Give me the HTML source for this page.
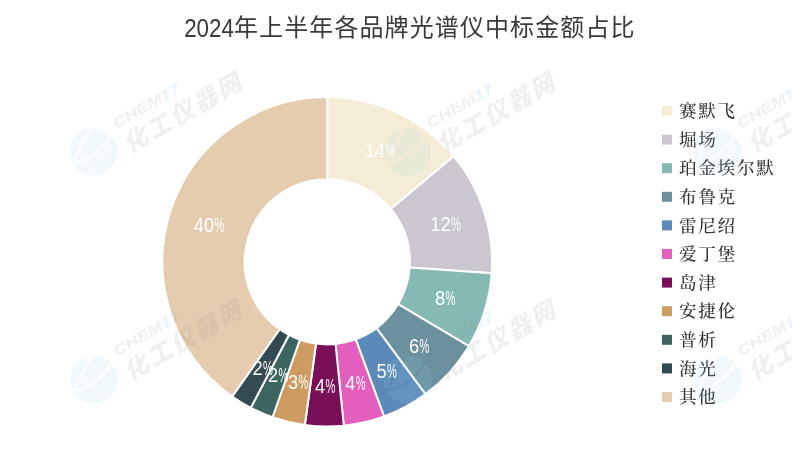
<!DOCTYPE html>
<html lang="zh-CN"><head><meta charset="utf-8"><title>2024年上半年各品牌光谱仪中标金额占比</title>
<style>
html,body{margin:0;padding:0;background:#fff;}
body{width:792px;height:473px;overflow:hidden;position:relative;}
svg{display:block;position:absolute;left:0;top:0;}
.title{font-family:"Liberation Sans","Noto Sans CJK SC",sans-serif;font-size:24px;fill:#3a3a3a;letter-spacing:1.1px;}
.leg{font-family:"Liberation Serif","Noto Serif CJK SC",serif;font-size:17.6px;letter-spacing:1.7px;fill:#333;font-weight:500;}
.dl{font-family:"Liberation Sans","Noto Sans CJK SC",sans-serif;font-size:19.8px;fill:#fff;}
.wm1{font-family:"Liberation Sans","Noto Sans CJK SC",sans-serif;font-weight:900;font-style:italic;font-size:24px;letter-spacing:2.8px;fill:#777;}
.wm2{font-family:"Liberation Sans","Noto Sans CJK SC",sans-serif;font-style:italic;font-weight:bold;font-size:14.6px;letter-spacing:0;fill:#777;}
</style></head><body>
<svg width="792" height="473" viewBox="0 0 792 473">
<rect width="792" height="473" fill="#fff"/>

<path d="M327.25,97.00 A164.8,164.8 0 0 1 453.83,156.27 L390.70,208.91 A82.6,82.6 0 0 0 327.25,179.20 Z" fill="#F5ECD5" stroke="#fff" stroke-width="2" stroke-linejoin="round"/>
<path d="M453.83,156.27 A164.8,164.8 0 0 1 491.66,273.18 L409.65,267.50 A82.6,82.6 0 0 0 390.70,208.91 Z" fill="#CBC6CF" stroke="#fff" stroke-width="2" stroke-linejoin="round"/>
<path d="M491.66,273.18 A164.8,164.8 0 0 1 468.84,346.14 L398.21,304.07 A82.6,82.6 0 0 0 409.65,267.50 Z" fill="#86B8B4" stroke="#fff" stroke-width="2" stroke-linejoin="round"/>
<path d="M468.84,346.14 A164.8,164.8 0 0 1 425.45,394.15 L376.47,328.13 A82.6,82.6 0 0 0 398.21,304.07 Z" fill="#6B919E" stroke="#fff" stroke-width="2" stroke-linejoin="round"/>
<path d="M425.45,394.15 A164.8,164.8 0 0 1 384.05,416.50 L355.72,339.34 A82.6,82.6 0 0 0 376.47,328.13 Z" fill="#5C8AB8" stroke="#fff" stroke-width="2" stroke-linejoin="round"/>
<path d="M384.05,416.50 A164.8,164.8 0 0 1 343.79,425.77 L335.54,343.98 A82.6,82.6 0 0 0 355.72,339.34 Z" fill="#E45EBE" stroke="#fff" stroke-width="2" stroke-linejoin="round"/>
<path d="M343.79,425.77 A164.8,164.8 0 0 1 304.85,425.07 L316.02,343.63 A82.6,82.6 0 0 0 335.54,343.98 Z" fill="#780F57" stroke="#fff" stroke-width="2" stroke-linejoin="round"/>
<path d="M304.85,425.07 A164.8,164.8 0 0 1 272.50,417.24 L299.81,339.71 A82.6,82.6 0 0 0 316.02,343.63 Z" fill="#CE9C62" stroke="#fff" stroke-width="2" stroke-linejoin="round"/>
<path d="M272.50,417.24 A164.8,164.8 0 0 1 250.78,407.78 L288.92,334.97 A82.6,82.6 0 0 0 299.81,339.71 Z" fill="#3C6562" stroke="#fff" stroke-width="2" stroke-linejoin="round"/>
<path d="M250.78,407.78 A164.8,164.8 0 0 1 232.24,396.45 L279.63,329.29 A82.6,82.6 0 0 0 288.92,334.97 Z" fill="#344A52" stroke="#fff" stroke-width="2" stroke-linejoin="round"/>
<path d="M232.24,396.45 A164.8,164.8 0 0 1 327.25,97.00 L327.25,179.20 A82.6,82.6 0 0 0 279.63,329.29 Z" fill="#E6CCAF" stroke="#fff" stroke-width="2" stroke-linejoin="round"/>
<g class="dl" transform="translate(385.20,157.10)"><text transform="scale(0.926,1)" text-anchor="end">14</text><text transform="translate(0.3,0) scale(0.56,1)">%</text></g>
<g class="dl" transform="translate(450.70,230.60)"><text transform="scale(0.926,1)" text-anchor="end">12</text><text transform="translate(0.3,0) scale(0.56,1)">%</text></g>
<g class="dl" transform="translate(445.30,305.10)"><text transform="scale(0.926,1)" text-anchor="end">8</text><text transform="translate(0.3,0) scale(0.56,1)">%</text></g>
<g class="dl" transform="translate(419.30,353.10)"><text transform="scale(0.926,1)" text-anchor="end">6</text><text transform="translate(0.3,0) scale(0.56,1)">%</text></g>
<g class="dl" transform="translate(386.80,377.90)"><text transform="scale(0.926,1)" text-anchor="end">5</text><text transform="translate(0.3,0) scale(0.56,1)">%</text></g>
<g class="dl" transform="translate(355.40,390.10)"><text transform="scale(0.926,1)" text-anchor="end">4</text><text transform="translate(0.3,0) scale(0.56,1)">%</text></g>
<g class="dl" transform="translate(325.30,392.50)"><text transform="scale(0.926,1)" text-anchor="end">4</text><text transform="translate(0.3,0) scale(0.56,1)">%</text></g>
<g class="dl" transform="translate(298.10,388.60)"><text transform="scale(0.926,1)" text-anchor="end">3</text><text transform="translate(0.3,0) scale(0.56,1)">%</text></g>
<g class="dl" transform="translate(278.30,382.10)"><text transform="scale(0.926,1)" text-anchor="end">2</text><text transform="translate(0.3,0) scale(0.56,1)">%</text></g>
<g class="dl" transform="translate(262.70,374.70)"><text transform="scale(0.926,1)" text-anchor="end">2</text><text transform="translate(0.3,0) scale(0.56,1)">%</text></g>
<g class="dl" transform="translate(214.10,231.80)"><text transform="scale(0.926,1)" text-anchor="end">40</text><text transform="translate(0.3,0) scale(0.56,1)">%</text></g>
<text class="title" transform="translate(184.2,36.6) scale(0.88,1)" style="font-size:25.4px;letter-spacing:0">2024</text><text class="title" x="234" y="36">年上半年各品牌光谱仪中标金额占比</text>
<rect x="662" y="106.0" width="10" height="10" fill="#F5ECD5"/>
<text class="leg" x="679.0" y="117.2">赛默飞</text>
<rect x="662" y="134.6" width="10" height="10" fill="#CBC6CF"/>
<text class="leg" x="679.0" y="145.8">堀场</text>
<rect x="662" y="163.2" width="10" height="10" fill="#86B8B4"/>
<text class="leg" x="679.0" y="174.4">珀金埃尔默</text>
<rect x="662" y="191.8" width="10" height="10" fill="#6B919E"/>
<text class="leg" x="679.0" y="203.0">布鲁克</text>
<rect x="662" y="220.4" width="10" height="10" fill="#5C8AB8"/>
<text class="leg" x="679.0" y="231.6">雷尼绍</text>
<rect x="662" y="249.0" width="10" height="10" fill="#E45EBE"/>
<text class="leg" x="679.0" y="260.2">爱丁堡</text>
<rect x="662" y="277.6" width="10" height="10" fill="#780F57"/>
<text class="leg" x="679.0" y="288.8">岛津</text>
<rect x="662" y="306.2" width="10" height="10" fill="#CE9C62"/>
<text class="leg" x="679.0" y="317.4">安捷伦</text>
<rect x="662" y="334.8" width="10" height="10" fill="#3C6562"/>
<text class="leg" x="679.0" y="346.0">普析</text>
<rect x="662" y="363.4" width="10" height="10" fill="#344A52"/>
<text class="leg" x="679.0" y="374.6">海光</text>
<rect x="662" y="392.0" width="10" height="10" fill="#E6CCAF"/>
<text class="leg" x="679.0" y="403.2">其他</text>
<defs><mask id="lg" maskUnits="userSpaceOnUse" x="-30" y="-30" width="60" height="60"><rect x="-30" y="-30" width="60" height="60" fill="#fff"/><path d="M-1,-25 C-8,-14 -15,-2 -19.5,12" stroke="#000" stroke-width="3" fill="none"/><path d="M18,-19 C14,-8 4,3 -9,8.5 C-14,10.5 -19,11 -24,10.5" stroke="#000" stroke-width="2.6" fill="none"/></mask></defs>
<g id="wm">
<g transform="translate(93.4,151.4)">
<g opacity="0.125" mask="url(#lg)"><circle cx="0" cy="0.4" r="24" fill="#9bd7f2"/></g>
<g transform="rotate(-30)" opacity="0.105"><text class="wm2" transform="translate(31.2,-8) scale(1.26,1)">CHEM<tspan fill="#2f9be0">17</tspan></text>
<text class="wm1" x="30.3" y="19.7">化工仪器网</text></g></g>
<g transform="translate(407,151.4)">
<g opacity="0.125" mask="url(#lg)"><circle cx="0" cy="0.4" r="24" fill="#9bd7f2"/></g>
<g transform="rotate(-30)" opacity="0.105"><text class="wm2" transform="translate(31.2,-8) scale(1.26,1)">CHEM<tspan fill="#2f9be0">17</tspan></text>
<text class="wm1" x="30.3" y="19.7">化工仪器网</text></g></g>
<g transform="translate(717.5,151.4)">
<g opacity="0.125" mask="url(#lg)"><circle cx="0" cy="0.4" r="24" fill="#9bd7f2"/></g>
<g transform="rotate(-30)" opacity="0.105"><text class="wm2" transform="translate(31.2,-8) scale(1.26,1)">CHEM<tspan fill="#2f9be0">17</tspan></text>
<text class="wm1" x="30.3" y="19.7">化工仪器网</text></g></g>
<g transform="translate(94,379)">
<g opacity="0.125" mask="url(#lg)"><circle cx="0" cy="0.4" r="24" fill="#9bd7f2"/></g>
<g transform="rotate(-30)" opacity="0.105"><text class="wm2" transform="translate(31.2,-8) scale(1.26,1)">CHEM<tspan fill="#2f9be0">17</tspan></text>
<text class="wm1" x="30.3" y="19.7">化工仪器网</text></g></g>
<g transform="translate(407.5,379)">
<g opacity="0.125" mask="url(#lg)"><circle cx="0" cy="0.4" r="24" fill="#9bd7f2"/></g>
<g transform="rotate(-30)" opacity="0.105"><text class="wm2" transform="translate(31.2,-8) scale(1.26,1)">CHEM<tspan fill="#2f9be0">17</tspan></text>
<text class="wm1" x="30.3" y="19.7">化工仪器网</text></g></g>
<g transform="translate(718,379)">
<g opacity="0.125" mask="url(#lg)"><circle cx="0" cy="0.4" r="24" fill="#9bd7f2"/></g>
<g transform="rotate(-30)" opacity="0.105"><text class="wm2" transform="translate(31.2,-8) scale(1.26,1)">CHEM<tspan fill="#2f9be0">17</tspan></text>
<text class="wm1" x="30.3" y="19.7">化工仪器网</text></g></g>
</g>
</svg></body></html>
